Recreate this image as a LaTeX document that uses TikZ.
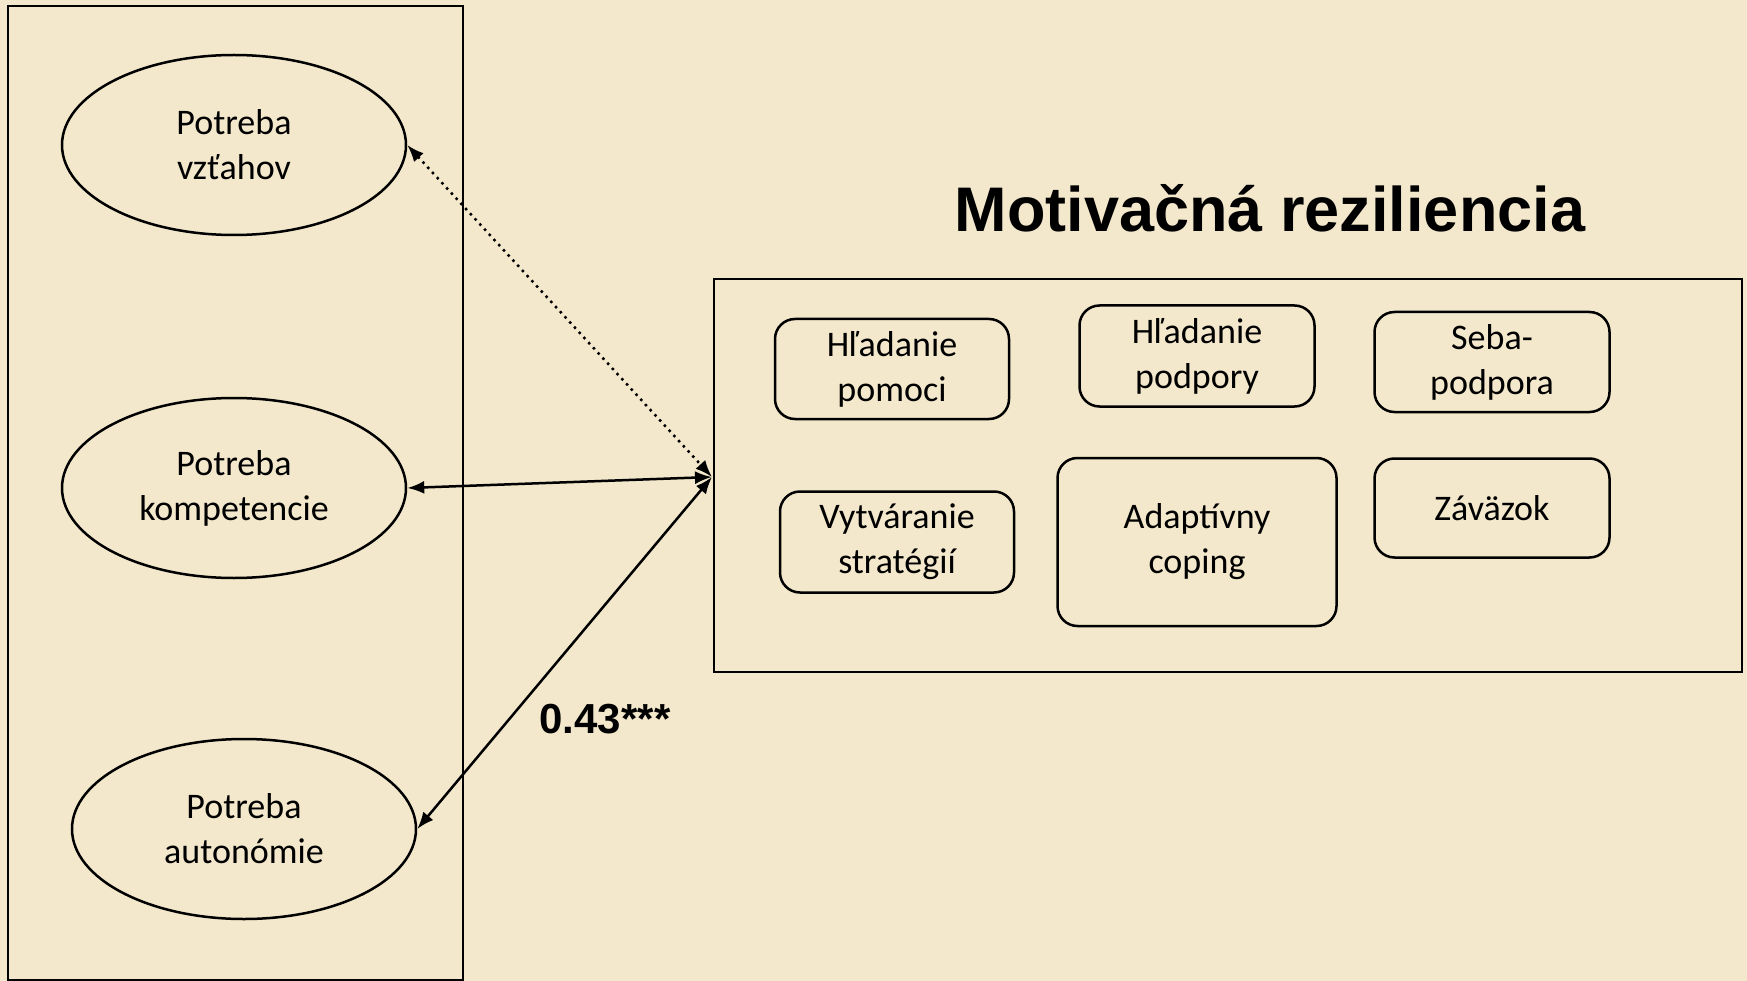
\documentclass[tikz,border=0pt]{standalone}
\usepackage{fontspec}
\setmainfont{Carlito}
\newfontfamily\titlefont{Liberation Sans}
\usetikzlibrary{shapes, arrows.meta, positioning}
\definecolor{paper}{RGB}{243,232,204}
\tikzset{need/.style={draw, ellipse, line width=2.5pt, minimum width=344pt, minimum height=180pt, inner sep=0pt, align=center, font=\fontsize{36}{45}\selectfont}}
\tikzset{part/.style={draw, rounded corners=20pt, line width=2.5pt, inner sep=0pt, align=center, font=\fontsize{36}{45}\selectfont}}
\tikzset{link/.style={line width=2.5pt, {Latex[length=17pt,width=13pt]}-{Latex[length=17pt,width=13pt]}}}

\begin{document}
\begin{tikzpicture}[x=1pt, y=-1pt]
        \fill[paper] (0,0) rectangle (1747,981);
        \useasboundingbox (0,0) rectangle (1747,981);

        \draw[line width=2pt] (8,6) rectangle (463,980);
        \draw[line width=2pt] (714,279) rectangle (1742,672);

        \node[need] (Nvz) at (234,145) {Potreba\\vzťahov};
        \node[need] (Nko) at (234,488) {Potreba\\kompetencie};
        \node[need] (Nau) at (244,829) {Potreba\\autonómie};

        \node[font=\titlefont\bfseries\fontsize{63}{70}\selectfont] (title) at (1270,208) {Motivačná reziliencia};

        \node[part, minimum width=234pt, minimum height=100pt] (Ppom) at (892,369) {Hľadanie\\pomoci};
        \node[part, minimum width=235pt, minimum height=101pt] (Ppod) at (1197,356) {Hľadanie\\podpory};
        \node[part, minimum width=235pt, minimum height=100pt] (Pseb) at (1492,362) {Seba-\\podpora};
        \node[part, minimum width=234pt, minimum height=101pt] (Pvyt) at (897,542) {Vytváranie\\stratégií};
        \node[part, minimum width=279pt, minimum height=168pt] (Pada) at (1197,542) {Adaptívny\\coping};
        \node[part, minimum width=235pt, minimum height=99pt] (Pzav) at (1492,508) {Záväzok};

        \coordinate (hub) at (712,477);

        \draw [link, dash pattern=on 2.5pt off 4.5pt] (Nvz.east) -- (hub);
        \draw [link] (Nko.east) -- (hub);
        \draw [link] (Nau.east) -- (hub);

        \node[font=\titlefont\bfseries\fontsize{42}{48}\selectfont] (coef) at (605,719) {0.43***};
    \end{tikzpicture}
\end{document}
